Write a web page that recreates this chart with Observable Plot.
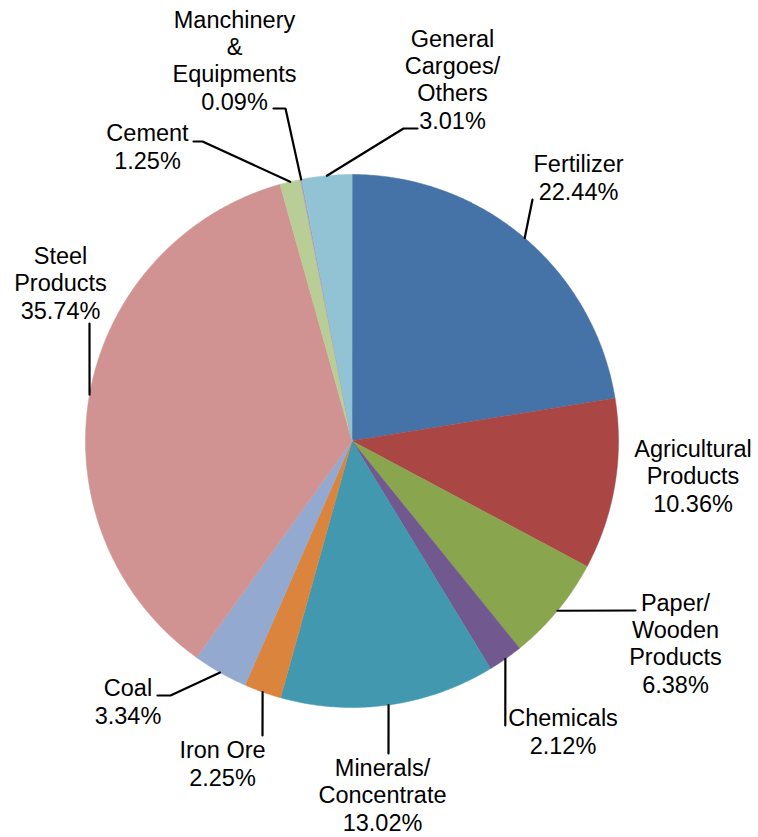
<!DOCTYPE html>
<html>
<head>
<meta charset="utf-8">
<script src="https://cdn.jsdelivr.net/npm/d3@7"></script>
<script src="https://cdn.jsdelivr.net/npm/@observablehq/plot@0.6"></script>
<style>
  html, body { margin: 0; padding: 0; background: #fff; }
  #chart svg { display: block; }
</style>
</head>
<body>
<div id="chart"></div>
<script>
// ---- data ----
const categories = [
  "Fertilizer",
  "Agricultural\nProducts",
  "Paper/\nWooden\nProducts",
  "Chemicals",
  "Minerals/\nConcentrate",
  "Iron Ore",
  "Coal",
  "Steel\nProducts",
  "Cement",
  "Manchinery\n&\nEquipments",
  "General\nCargoes/\nOthers"
];
const shares = [22.44, 10.36, 6.38, 2.12, 13.02, 2.25, 3.34, 35.74, 1.25, 0.09, 3.01];
const colors = ["#4572A7", "#AA4643", "#89A54E", "#71588F", "#4198AF", "#DB843D",
                "#93A9CF", "#D19392", "#B9CD96", "#A99BBD", "#91C3D5"];

// ---- layout (pixel units of the identity scales) ----
const W = 758, H = 837;
const cx = 351.5, cy = 440.5, R = 266.5;
// label centre x, last-line baseline y, leader-line label-side points
const labelLayout = [
  {x: 578, y: 199, leader: [[532, 199]]},
  {x: 692.5, y: 511, leader: null},
  {x: 675, y: 692, leader: [[635, 610]]},
  {x: 562.5, y: 753, leader: [[504.8, 725]]},
  {x: 382, y: 830, leader: [[388, 753]]},
  {x: 222, y: 785, leader: [[262, 735]]},
  {x: 127.5, y: 723, leader: [[170, 695], [157, 695]]},
  {x: 60, y: 318, leader: [[89, 323]]},
  {x: 147, y: 168, leader: [[202, 141], [193, 141]]},
  {x: 234, y: 109, leader: [[285, 108], [273, 108]]},
  {x: 452, y: 128, leader: [[403, 128], [417, 128]]}
];

const data = categories.map((name, i) => ({name, value: shares[i], color: colors[i]}));
const arcs = d3.pie().sort(null).value(d => d.value)(data);

const pt = (a, r) => [cx + r * Math.sin(a), cy - r * Math.cos(a)];

// slice polygons
const slicePts = [];
arcs.forEach(a => {
  slicePts.push({name: a.data.name, x: cx, y: cy});
  const n = Math.max(2, Math.ceil((a.endAngle - a.startAngle) / (Math.PI / 360)));
  for (let k = 0; k <= n; k++) {
    const ang = a.startAngle + (a.endAngle - a.startAngle) * k / n;
    const [x, y] = pt(ang, R);
    slicePts.push({name: a.data.name, x, y});
  }
});

// leader lines
const leaderPts = [];
arcs.forEach((a, i) => {
  const L = labelLayout[i];
  if (!L.leader) return;
  const mid = (a.startAngle + a.endAngle) / 2;
  const [sx, sy] = pt(mid, R);
  leaderPts.push({id: i, x: sx, y: sy});
  L.leader.forEach(([x, y]) => leaderPts.push({id: i, x, y}));
});

const labels = arcs.map((a, i) => ({
  text: a.data.name + "\n" + a.data.value.toFixed(2) + "%",
  x: labelLayout[i].x,
  y: labelLayout[i].y
}));

const chart = Plot.plot({
  width: W,
  height: H,
  margin: 0,
  style: {fontFamily: "'Liberation Sans', Arial, sans-serif", background: "#fff"},
  x: {domain: [0, W], range: [0, W], axis: null},
  y: {domain: [0, H], range: [0, H], axis: null},
  color: {domain: categories, range: colors},
  marks: [
    Plot.line(slicePts, {x: "x", y: "y", z: "name", fill: "name", stroke: "name",
      strokeWidth: 0.5, curve: "linear-closed"}),
    Plot.line(leaderPts, {x: "x", y: "y", z: "id", stroke: "#000", strokeWidth: 2.2,
      strokeLinejoin: "miter"}),
    Plot.text(labels, {x: "x", y: "y", text: "text", textAnchor: "middle",
      lineAnchor: "bottom", lineHeight: 1.15, fontSize: 23.5, fill: "#000"})
  ]
});
document.getElementById("chart").appendChild(chart);
</script>
</body>
</html>
